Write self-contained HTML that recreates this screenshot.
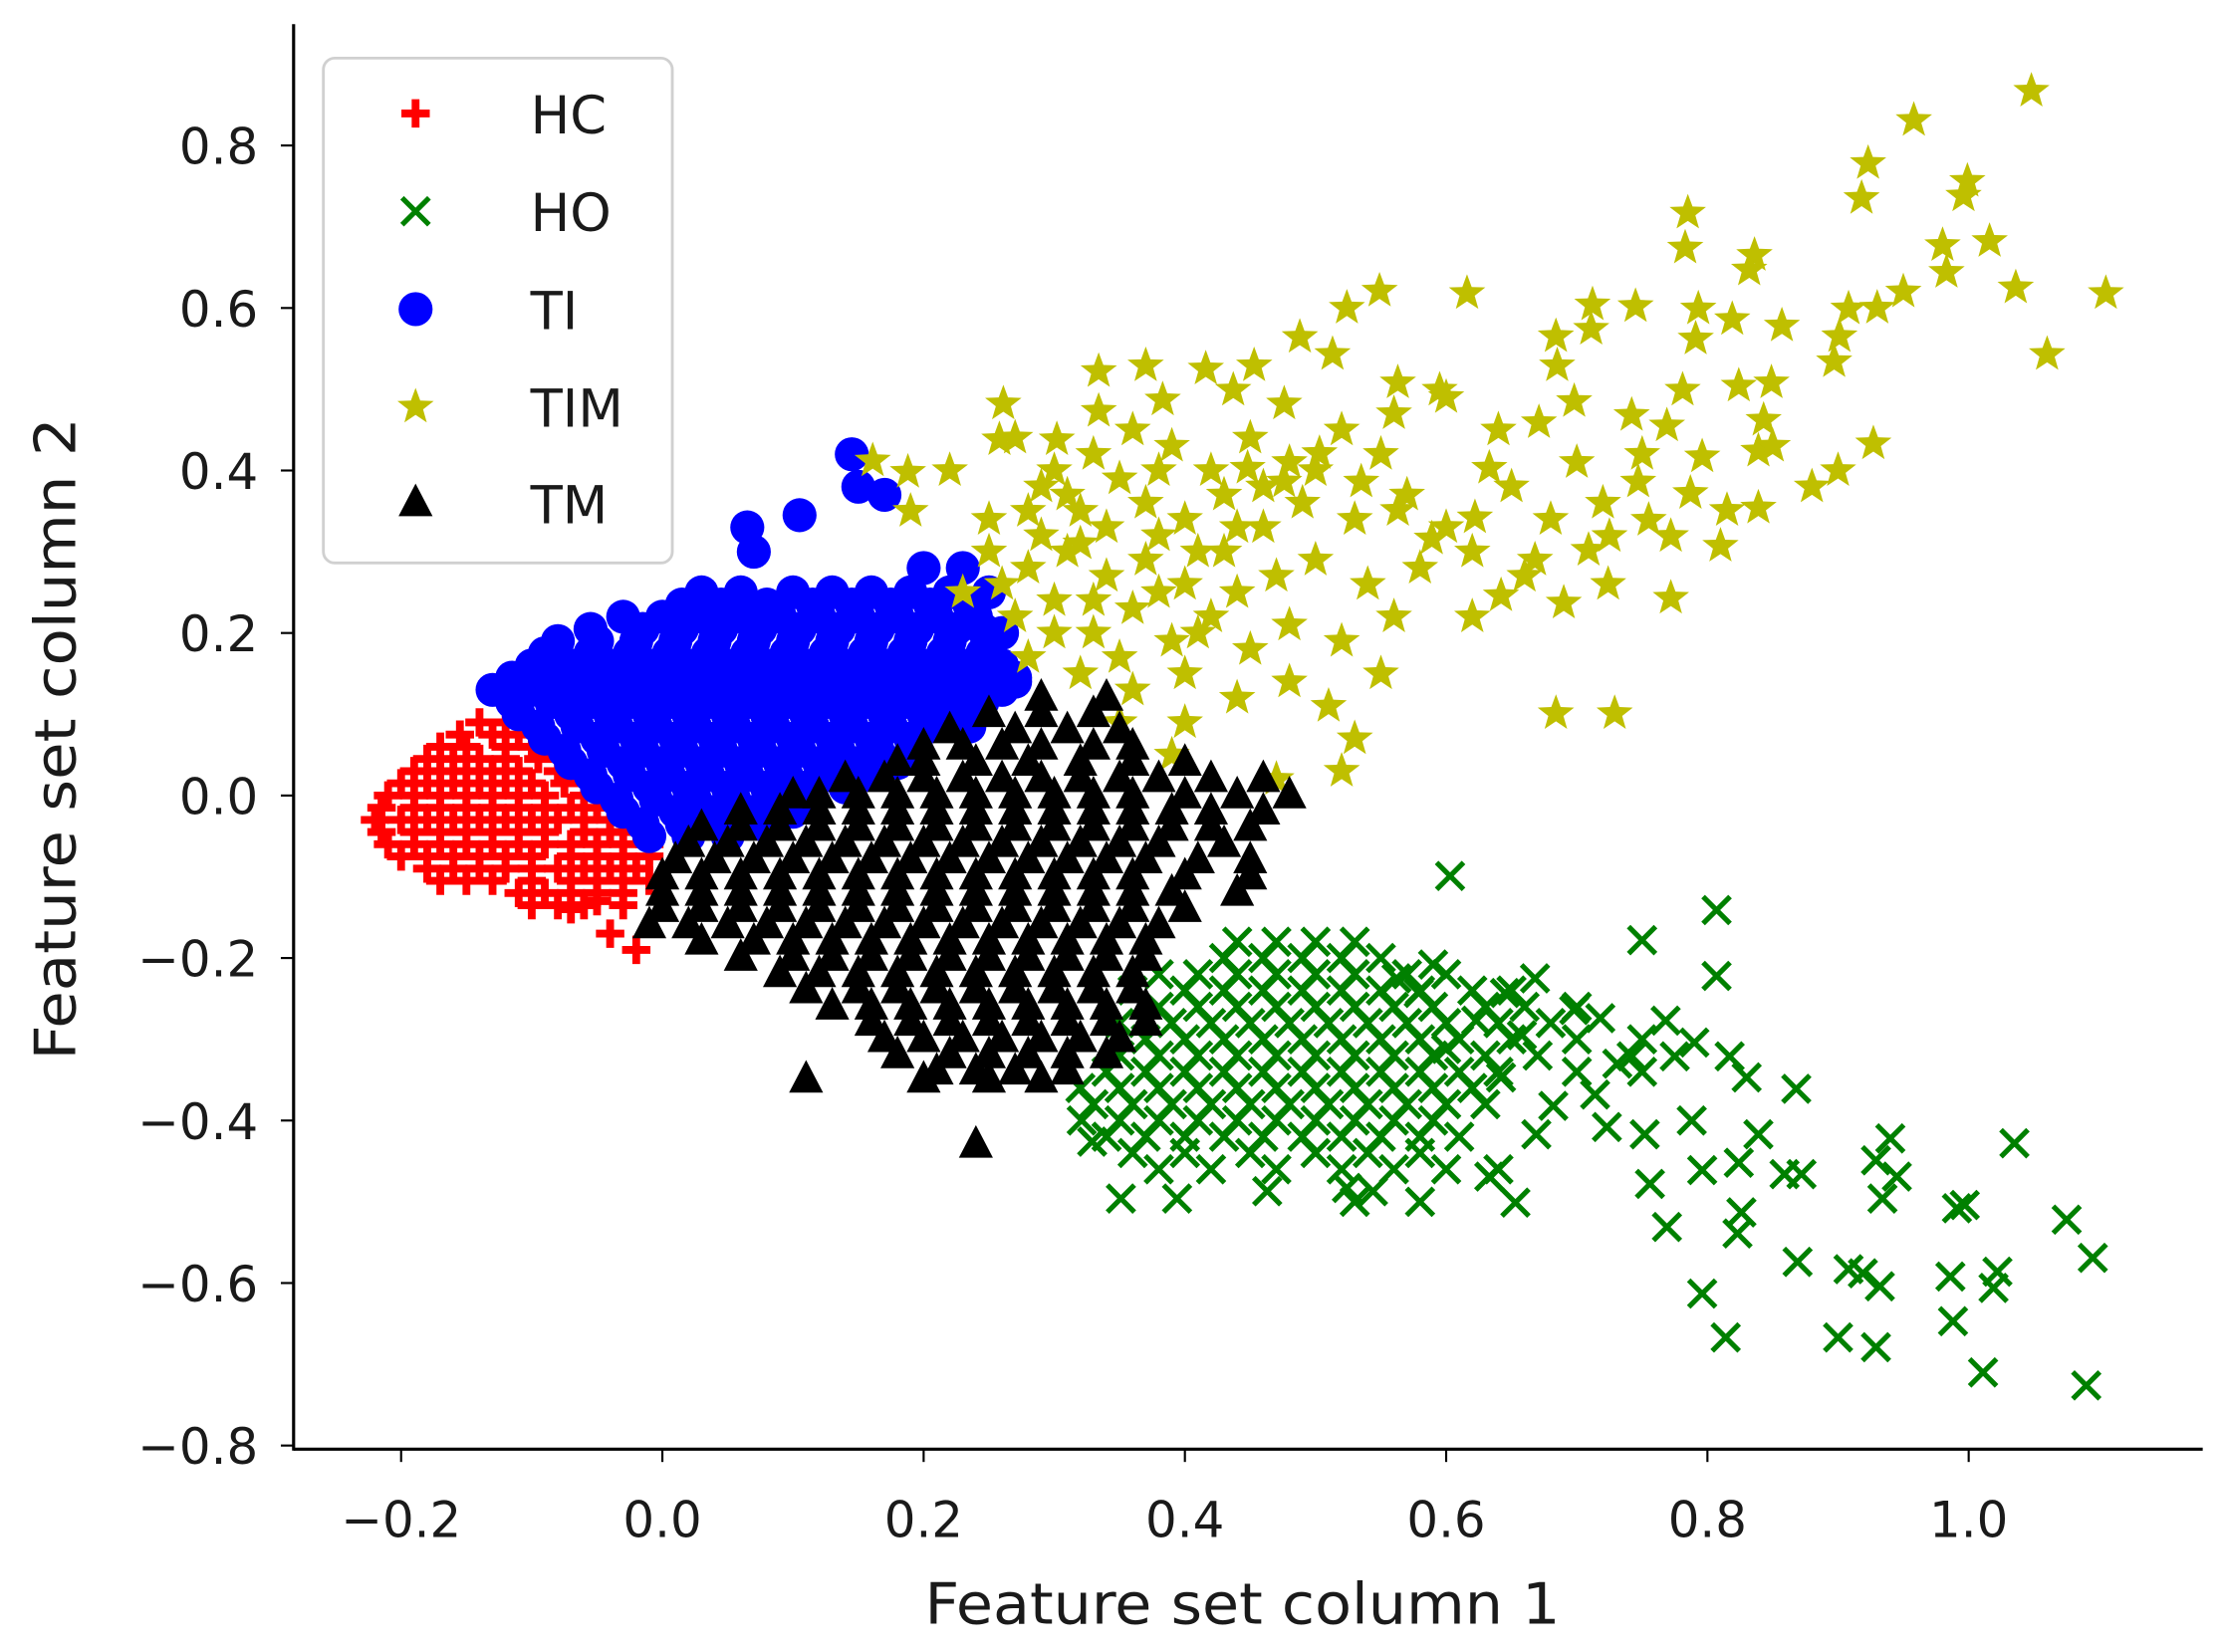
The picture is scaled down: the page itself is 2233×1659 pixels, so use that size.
<!DOCTYPE html>
<html><head><meta charset="utf-8"><style>
html,body{margin:0;padding:0;background:#fff;}
svg{display:block;}
text{font-family:"DejaVu Sans","Liberation Sans",sans-serif;fill:#1a1a1a;}
</style></head><body>
<svg id="chart" width="2233" height="1659" viewBox="0 0 1568 1165" preserveAspectRatio="none" xmlns="http://www.w3.org/2000/svg">
<g id="marks"></g>
<g id="axes"></g>
<g id="legend"></g>
</svg>
<script>
const xTicks=[-0.2,0.0,0.2,0.4,0.6,0.8,1.0];
const xTickLabels=["\u22120.2","0.0","0.2","0.4","0.6","0.8","1.0"];
const yTicks=[0.8,0.6,0.4,0.2,0.0,-0.2,-0.4,-0.6,-0.8];
const yTickLabels=["0.8","0.6","0.4","0.2","0.0","\u22120.2","\u22120.4","\u22120.6","\u22120.8"];
const seriesNames=["HC","HO","TI","TIM","TM"];
const hcPoints=[[-0.14,0.09],[-0.12,0.09],[-0.17,0.06],[-0.15,0.06],[-0.12,0.06],[-0.10,0.06],
[-0.19,0.03],[-0.17,0.03],[-0.15,0.03],[-0.13,0.03],[-0.11,0.03],[-0.08,0.03],
[-0.21,0],[-0.19,0],[-0.17,0],[-0.15,0],[-0.13,0],[-0.11,0],[-0.09,0],[-0.06,0],
[-0.22,-0.03],[-0.20,-0.03],[-0.18,-0.03],[-0.16,-0.03],[-0.14,-0.03],[-0.12,-0.03],[-0.10,-0.03],[-0.08,-0.03],[-0.06,-0.03],[-0.04,-0.03],
[-0.21,-0.06],[-0.19,-0.06],[-0.17,-0.06],[-0.15,-0.06],[-0.13,-0.06],[-0.11,-0.06],[-0.09,-0.06],[-0.07,-0.06],[-0.05,-0.06],[-0.03,-0.06],[-0.01,-0.06],
[-0.18,-0.09],[-0.16,-0.09],[-0.14,-0.09],[-0.12,-0.09],[-0.10,-0.09],[-0.08,-0.09],[-0.06,-0.09],[-0.04,-0.09],[-0.02,-0.09],
[-0.11,-0.12],[-0.09,-0.12],[-0.07,-0.12],[-0.05,-0.12],[-0.03,-0.12],
[-0.07,-0.14],[-0.04,-0.17],[-0.02,-0.19],[-0.05,-0.13],
[-0.155,0.075],[-0.13,0.075],[-0.11,0.075],
[-0.18,0.045],[-0.16,0.045],[-0.14,0.045],[-0.12,0.045],[-0.095,0.045],
[-0.20,0.015],[-0.18,0.015],[-0.16,0.015],[-0.14,0.015],[-0.12,0.015],[-0.10,0.015],[-0.075,0.015],
[-0.215,-0.015],[-0.19,-0.015],[-0.17,-0.015],[-0.15,-0.015],[-0.13,-0.015],[-0.11,-0.015],[-0.09,-0.015],[-0.07,-0.015],[-0.05,-0.015],
[-0.215,-0.045],[-0.19,-0.045],[-0.17,-0.045],[-0.15,-0.045],[-0.13,-0.045],[-0.11,-0.045],[-0.09,-0.045],[-0.06,-0.045],[-0.04,-0.045],[-0.02,-0.045],
[-0.20,-0.075],[-0.18,-0.075],[-0.16,-0.075],[-0.14,-0.075],[-0.12,-0.075],[-0.10,-0.075],[-0.07,-0.075],[-0.05,-0.075],[-0.03,-0.075],[-0.01,-0.075],
[-0.17,-0.105],[-0.15,-0.105],[-0.13,-0.105],[-0.10,-0.105],[-0.07,-0.105],[-0.05,-0.105],[-0.03,-0.105],[-0.01,-0.105],
[-0.10,-0.135],[-0.08,-0.135],[-0.06,-0.135],[-0.03,-0.135]];
const hoPoints=[[0.603,-0.099],[0.807,-0.141],[0.750,-0.178],[0.807,-0.222],[1.090,-0.726],[1.075,-0.522],[1.095,-0.569],[1.035,-0.428],[1.011,-0.710],[1.022,-0.586],[1.019,-0.606],[0.991,-0.508],[0.997,-0.504],[0.988,-0.647],[0.986,-0.592],
[0.940,-0.422],[0.929,-0.449],[0.934,-0.496],[0.945,-0.469],[0.908,-0.583],[0.919,-0.588],[0.932,-0.604],[0.900,-0.667],[0.929,-0.679],[0.869,-0.574],[0.814,-0.667],[0.796,-0.613],
[0.868,-0.361],[0.859,-0.466],[0.872,-0.466],[0.839,-0.417],[0.824,-0.452],[0.826,-0.513],[0.823,-0.539],[0.796,-0.461],[0.788,-0.400],[0.775,-0.321],[0.817,-0.321],[0.830,-0.347],[0.790,-0.304],[0.768,-0.277],
[0.752,-0.417],[0.756,-0.478],[0.769,-0.531],[0.723,-0.408],[0.714,-0.368],[0.742,-0.321],[0.731,-0.330],[0.718,-0.274],[0.698,-0.264],[0.682,-0.382],[0.669,-0.417],[0.653,-0.501],[0.633,-0.469],[0.668,-0.225],
[0.645,-0.243],[0.623,-0.277],[0.658,-0.295],[0.642,-0.347],[0.600,-0.312],[0.579,-0.243],[0.562,-0.225],[0.590,-0.208],[0.524,-0.483],[0.544,-0.487],[0.463,-0.487],[0.394,-0.496],[0.351,-0.496],[0.329,-0.426],[0.321,-0.400],
[0.44,-0.18],[0.47,-0.18],[0.50,-0.18],[0.53,-0.18],
[0.38,-0.22],[0.41,-0.22],[0.44,-0.22],[0.47,-0.22],[0.50,-0.22],[0.53,-0.22],[0.57,-0.22],[0.60,-0.22],
[0.38,-0.26],[0.41,-0.26],[0.44,-0.26],[0.47,-0.26],[0.50,-0.26],[0.53,-0.26],[0.56,-0.26],[0.59,-0.26],[0.63,-0.26],[0.66,-0.26],[0.70,-0.26],
[0.37,-0.30],[0.40,-0.30],[0.43,-0.30],[0.46,-0.30],[0.49,-0.30],[0.52,-0.30],[0.55,-0.30],[0.58,-0.30],[0.61,-0.30],[0.65,-0.30],[0.70,-0.30],[0.75,-0.30],
[0.34,-0.34],[0.37,-0.34],[0.40,-0.34],[0.43,-0.34],[0.46,-0.34],[0.49,-0.34],[0.52,-0.34],[0.55,-0.34],[0.58,-0.34],[0.61,-0.34],[0.64,-0.34],[0.70,-0.34],[0.75,-0.34],
[0.33,-0.38],[0.36,-0.38],[0.39,-0.38],[0.42,-0.38],[0.45,-0.38],[0.48,-0.38],[0.51,-0.38],[0.54,-0.38],[0.57,-0.38],[0.60,-0.38],[0.63,-0.38],
[0.34,-0.42],[0.37,-0.42],[0.40,-0.42],[0.43,-0.42],[0.46,-0.42],[0.49,-0.42],[0.52,-0.42],[0.55,-0.42],[0.58,-0.42],[0.61,-0.42],
[0.38,-0.46],[0.42,-0.46],[0.47,-0.46],[0.52,-0.46],[0.56,-0.46],[0.60,-0.46],[0.64,-0.46],[0.53,-0.50],[0.58,-0.50],
[0.43,-0.20],[0.46,-0.20],[0.49,-0.20],[0.52,-0.20],[0.55,-0.20],
[0.36,-0.24],[0.40,-0.24],[0.43,-0.24],[0.46,-0.24],[0.49,-0.24],[0.52,-0.24],[0.55,-0.24],[0.58,-0.24],[0.62,-0.24],[0.65,-0.24],
[0.35,-0.28],[0.39,-0.28],[0.42,-0.28],[0.45,-0.28],[0.48,-0.28],[0.51,-0.28],[0.54,-0.28],[0.57,-0.28],[0.60,-0.28],[0.64,-0.28],[0.68,-0.28],
[0.35,-0.32],[0.38,-0.32],[0.41,-0.32],[0.44,-0.32],[0.47,-0.32],[0.50,-0.32],[0.53,-0.32],[0.56,-0.32],[0.59,-0.32],[0.63,-0.32],[0.67,-0.32],
[0.32,-0.36],[0.35,-0.36],[0.38,-0.36],[0.41,-0.36],[0.44,-0.36],[0.47,-0.36],[0.50,-0.36],[0.53,-0.36],[0.56,-0.36],[0.59,-0.36],[0.62,-0.36],
[0.35,-0.40],[0.38,-0.40],[0.41,-0.40],[0.44,-0.40],[0.47,-0.40],[0.50,-0.40],[0.53,-0.40],[0.56,-0.40],[0.59,-0.40],
[0.36,-0.44],[0.40,-0.44],[0.45,-0.44],[0.50,-0.44],[0.54,-0.44],[0.58,-0.44]];
const tiPoints=[[0.145,0.42],[0.15,0.38],[0.17,0.37],[0.105,0.345],[0.065,0.33],[0.07,0.30],[0.20,0.28],[0.23,0.28],[0.25,0.25],[0.26,0.20],[0.27,0.14],
[0.03,0.25],[0.06,0.25],[0.10,0.25],[0.13,0.25],[0.16,0.25],[0.19,0.25],[0.22,0.25],
[-0.03,0.22],[0,0.22],[0.03,0.22],[0.06,0.22],[0.09,0.22],[0.12,0.22],[0.15,0.22],[0.18,0.22],[0.21,0.22],[0.24,0.22],
[-0.08,0.19],[-0.05,0.19],[-0.02,0.19],[0.01,0.19],[0.04,0.19],[0.07,0.19],[0.10,0.19],[0.13,0.19],[0.16,0.19],[0.19,0.19],[0.22,0.19],[0.25,0.19],
[-0.10,0.16],[-0.07,0.16],[-0.04,0.16],[-0.01,0.16],[0.02,0.16],[0.05,0.16],[0.08,0.16],[0.11,0.16],[0.14,0.16],[0.17,0.16],[0.20,0.16],[0.23,0.16],[0.26,0.16],
[-0.13,0.13],[-0.10,0.13],[-0.07,0.13],[-0.04,0.13],[-0.01,0.13],[0.02,0.13],[0.05,0.13],[0.08,0.13],[0.11,0.13],[0.14,0.13],[0.17,0.13],[0.20,0.13],[0.23,0.13],[0.26,0.13],
[-0.11,0.10],[-0.07,0.10],[-0.04,0.10],[-0.01,0.10],[0.02,0.10],[0.05,0.10],[0.08,0.10],[0.11,0.10],[0.14,0.10],[0.17,0.10],[0.20,0.10],[0.23,0.10],
[-0.09,0.07],[-0.05,0.07],[-0.02,0.07],[0.01,0.07],[0.04,0.07],[0.07,0.07],[0.10,0.07],[0.13,0.07],[0.16,0.07],[0.19,0.07],
[-0.07,0.04],[-0.03,0.04],[0,0.04],[0.03,0.04],[0.06,0.04],[0.09,0.04],[0.12,0.04],[0.15,0.04],[0.18,0.04],
[-0.05,0.01],[-0.01,0.01],[0.02,0.01],[0.05,0.01],[0.08,0.01],[0.11,0.01],[0.14,0.01],
[-0.03,-0.02],[0.01,-0.02],[0.04,-0.02],[0.07,-0.02],[0.10,-0.02],[-0.01,-0.05],[0.02,-0.05],[0.05,-0.05],
[0.015,0.235],[0.045,0.235],[0.08,0.235],[0.115,0.235],[0.145,0.235],[0.175,0.235],[0.205,0.235],[0.235,0.235],
[-0.055,0.205],[-0.015,0.205],[0.015,0.205],[0.045,0.205],[0.075,0.205],[0.105,0.205],[0.135,0.205],[0.165,0.205],[0.195,0.205],[0.225,0.205],[0.245,0.205],
[-0.09,0.175],[-0.055,0.175],[-0.025,0.175],[0.005,0.175],[0.035,0.175],[0.065,0.175],[0.095,0.175],[0.125,0.175],[0.155,0.175],[0.185,0.175],[0.215,0.175],[0.245,0.175],
[-0.115,0.145],[-0.085,0.145],[-0.055,0.145],[-0.025,0.145],[0.005,0.145],[0.035,0.145],[0.065,0.145],[0.095,0.145],[0.125,0.145],[0.155,0.145],[0.185,0.145],[0.215,0.145],[0.245,0.145],[0.27,0.145],
[-0.115,0.115],[-0.085,0.115],[-0.055,0.115],[-0.025,0.115],[0.005,0.115],[0.035,0.115],[0.065,0.115],[0.095,0.115],[0.125,0.115],[0.155,0.115],[0.185,0.115],[0.215,0.115],[0.245,0.115],
[-0.095,0.085],[-0.065,0.085],[-0.035,0.085],[-0.005,0.085],[0.025,0.085],[0.055,0.085],[0.085,0.085],[0.115,0.085],[0.145,0.085],[0.175,0.085],[0.205,0.085],[0.235,0.085],
[-0.075,0.055],[-0.045,0.055],[-0.015,0.055],[0.015,0.055],[0.045,0.055],[0.075,0.055],[0.105,0.055],[0.135,0.055],[0.165,0.055],[0.195,0.055],
[-0.055,0.025],[-0.025,0.025],[0.005,0.025],[0.035,0.025],[0.065,0.025],[0.095,0.025],[0.125,0.025],[0.155,0.025],
[-0.035,-0.005],[-0.005,-0.005],[0.025,-0.005],[0.055,-0.005],[0.085,-0.005],[0.115,-0.005],
[-0.015,-0.035],[0.015,-0.035],[0.045,-0.035],[0.075,-0.035]];
const timPoints=[[1.048,0.867],[0.958,0.831],[0.923,0.778],[0.918,0.735],[0.999,0.756],[0.996,0.738],[0.785,0.717],[0.783,0.674],[0.836,0.665],[0.832,0.647],[0.980,0.677],[0.983,0.644],[1.016,0.682],
[1.036,0.625],[1.105,0.618],[1.060,0.543],[0.908,0.599],[0.901,0.565],[0.897,0.534],[0.927,0.433],[0.900,0.400],
[0.616,0.618],[0.549,0.621],[0.524,0.600],[0.488,0.564],[0.453,0.529],[0.416,0.525],[0.370,0.529],[0.334,0.522],[0.261,0.482],
[0.712,0.604],[0.745,0.602],[0.711,0.574],[0.684,0.565],[0.685,0.529],[0.793,0.599],[0.819,0.586],[0.857,0.578],[0.791,0.562],
[0.849,0.508],[0.824,0.504],[0.781,0.499],[0.595,0.499],[0.563,0.508],[0.513,0.543],[0.476,0.482],[0.437,0.499],[0.383,0.487],
[0.334,0.473],[0.302,0.438],[0.258,0.438],[0.188,0.398],[0.161,0.412],
[0.671,0.459],[0.698,0.485],[0.742,0.468],[0.769,0.455],[0.796,0.417],[0.839,0.424],[0.843,0.462],[0.787,0.372],[0.747,0.386],
[0.755,0.339],[0.772,0.319],[0.810,0.307],[0.815,0.351],[0.839,0.354],[0.725,0.319],[0.709,0.302],[0.668,0.290],[0.642,0.246],
[0.690,0.237],[0.724,0.260],[0.772,0.243],[0.684,0.101],[0.729,0.101],
[0.633,0.403],[0.622,0.342],[0.589,0.316],[0.563,0.351],[0.535,0.386],[0.503,0.421],[0.476,0.386],[0.448,0.403],
[0.30,0.40],[0.33,0.42],[0.36,0.45],[0.39,0.43],[0.42,0.40],[0.45,0.44],[0.48,0.41],[0.52,0.45],[0.55,0.42],
[0.28,0.35],[0.31,0.37],[0.34,0.33],[0.37,0.36],[0.40,0.34],[0.43,0.37],[0.46,0.33],[0.49,0.36],[0.53,0.34],[0.57,0.37],[0.60,0.33],
[0.25,0.30],[0.28,0.28],[0.31,0.30],[0.34,0.27],[0.37,0.29],[0.40,0.26],[0.43,0.30],[0.47,0.27],[0.50,0.29],[0.54,0.26],[0.58,0.28],[0.62,0.30],
[0.23,0.25],[0.27,0.22],[0.30,0.24],[0.33,0.20],[0.36,0.23],[0.39,0.19],[0.42,0.22],[0.45,0.18],[0.48,0.21],[0.52,0.19],[0.56,0.22],
[0.28,0.17],[0.32,0.15],[0.36,0.13],[0.40,0.15],[0.44,0.12],[0.48,0.14],[0.51,0.11],[0.55,0.15],
[0.35,0.09],[0.39,0.05],[0.47,0.02],[0.52,0.03],[0.53,0.07],[0.40,0.09],
[0.65,0.38],[0.68,0.34],[0.72,0.36],[0.66,0.27],[0.62,0.22],[0.70,0.41],[0.75,0.42],
[0.56,0.47],[0.60,0.49],[0.64,0.45],[0.27,0.44],[0.22,0.40],[0.19,0.35],[0.85,0.43],[0.88,0.38],[0.93,0.60],[0.95,0.62],
[0.32,0.31],[0.35,0.39],[0.38,0.32],[0.41,0.30],[0.44,0.33],[0.29,0.32],[0.33,0.24],[0.38,0.25],[0.41,0.20],[0.35,0.17],[0.30,0.20],[0.26,0.26],[0.44,0.25],[0.46,0.38],[0.50,0.40],[0.38,0.40],[0.32,0.35],[0.29,0.38],[0.25,0.34]];
const tmPoints=[[0.29,0.12],[0.34,0.12],
[0.22,0.08],[0.27,0.08],[0.31,0.08],[0.35,0.08],
[0.18,0.04],[0.20,0.04],[0.24,0.04],[0.28,0.04],[0.32,0.04],[0.36,0.04],[0.40,0.04],
[0.10,0],[0.12,0],[0.15,0],[0.18,0],[0.21,0],[0.24,0],[0.27,0],[0.30,0],[0.33,0],[0.36,0],[0.40,0],[0.44,0],[0.48,0],
[0.03,-0.04],[0.06,-0.04],[0.09,-0.04],[0.12,-0.04],[0.15,-0.04],[0.18,-0.04],[0.21,-0.04],[0.24,-0.04],[0.27,-0.04],[0.30,-0.04],[0.33,-0.04],[0.36,-0.04],[0.39,-0.04],[0.42,-0.04],[0.45,-0.04],
[0.01,-0.08],[0.04,-0.08],[0.07,-0.08],[0.10,-0.08],[0.13,-0.08],[0.16,-0.08],[0.19,-0.08],[0.22,-0.08],[0.25,-0.08],[0.28,-0.08],[0.31,-0.08],[0.34,-0.08],[0.37,-0.08],[0.41,-0.08],[0.45,-0.08],
[0,-0.12],[0.03,-0.12],[0.06,-0.12],[0.09,-0.12],[0.12,-0.12],[0.15,-0.12],[0.18,-0.12],[0.21,-0.12],[0.24,-0.12],[0.27,-0.12],[0.30,-0.12],[0.33,-0.12],[0.36,-0.12],[0.39,-0.12],[0.44,-0.12],
[-0.01,-0.16],[0.02,-0.16],[0.05,-0.16],[0.08,-0.16],[0.11,-0.16],[0.14,-0.16],[0.17,-0.16],[0.20,-0.16],[0.23,-0.16],[0.26,-0.16],[0.29,-0.16],[0.32,-0.16],[0.35,-0.16],[0.38,-0.16],
[0.06,-0.20],[0.10,-0.20],[0.13,-0.20],[0.16,-0.20],[0.19,-0.20],[0.22,-0.20],[0.25,-0.20],[0.28,-0.20],[0.31,-0.20],[0.34,-0.20],[0.37,-0.20],
[0.11,-0.24],[0.15,-0.24],[0.18,-0.24],[0.21,-0.24],[0.24,-0.24],[0.27,-0.24],[0.30,-0.24],[0.33,-0.24],[0.36,-0.24],
[0.16,-0.28],[0.19,-0.28],[0.22,-0.28],[0.25,-0.28],[0.28,-0.28],[0.31,-0.28],[0.34,-0.28],[0.37,-0.28],
[0.18,-0.32],[0.22,-0.32],[0.25,-0.32],[0.28,-0.32],[0.31,-0.32],[0.34,-0.32],
[0.11,-0.35],[0.20,-0.35],[0.25,-0.35],[0.29,-0.35],[0.24,-0.43],
[0.25,0.10],[0.29,0.10],[0.33,0.10],
[0.20,0.06],[0.23,0.06],[0.26,0.06],[0.29,0.06],[0.33,0.06],[0.36,0.06],
[0.14,0.02],[0.17,0.02],[0.20,0.02],[0.23,0.02],[0.26,0.02],[0.29,0.02],[0.32,0.02],[0.35,0.02],[0.38,0.02],[0.42,0.02],[0.46,0.02],
[0.06,-0.02],[0.09,-0.02],[0.12,-0.02],[0.15,-0.02],[0.18,-0.02],[0.21,-0.02],[0.24,-0.02],[0.27,-0.02],[0.30,-0.02],[0.33,-0.02],[0.36,-0.02],[0.39,-0.02],[0.42,-0.02],[0.46,-0.02],
[0.02,-0.06],[0.05,-0.06],[0.08,-0.06],[0.11,-0.06],[0.14,-0.06],[0.17,-0.06],[0.20,-0.06],[0.23,-0.06],[0.26,-0.06],[0.29,-0.06],[0.32,-0.06],[0.35,-0.06],[0.38,-0.06],[0.43,-0.06],
[0,-0.10],[0.03,-0.10],[0.06,-0.10],[0.09,-0.10],[0.12,-0.10],[0.15,-0.10],[0.18,-0.10],[0.21,-0.10],[0.24,-0.10],[0.27,-0.10],[0.30,-0.10],[0.33,-0.10],[0.36,-0.10],[0.40,-0.10],[0.45,-0.10],
[0,-0.14],[0.03,-0.14],[0.06,-0.14],[0.09,-0.14],[0.12,-0.14],[0.15,-0.14],[0.18,-0.14],[0.21,-0.14],[0.24,-0.14],[0.27,-0.14],[0.30,-0.14],[0.33,-0.14],[0.36,-0.14],[0.40,-0.14],
[0.03,-0.18],[0.07,-0.18],[0.10,-0.18],[0.13,-0.18],[0.16,-0.18],[0.19,-0.18],[0.22,-0.18],[0.25,-0.18],[0.28,-0.18],[0.31,-0.18],[0.34,-0.18],[0.37,-0.18],
[0.09,-0.22],[0.12,-0.22],[0.15,-0.22],[0.18,-0.22],[0.21,-0.22],[0.24,-0.22],[0.27,-0.22],[0.30,-0.22],[0.33,-0.22],[0.36,-0.22],
[0.13,-0.26],[0.16,-0.26],[0.19,-0.26],[0.22,-0.26],[0.25,-0.26],[0.28,-0.26],[0.31,-0.26],[0.34,-0.26],[0.37,-0.26],
[0.17,-0.30],[0.20,-0.30],[0.23,-0.30],[0.26,-0.30],[0.29,-0.30],[0.32,-0.30],[0.35,-0.30],
[0.21,-0.34],[0.24,-0.34],[0.27,-0.34],[0.31,-0.34]];

const NS="http://www.w3.org/2000/svg";
const X0=467, XS=921, Y0=561, YS=573;
function sx(v){return X0+v*XS;}
function sy(v){return Y0-v*YS;}
function mk(tag,attrs,parent){const e=document.createElementNS(NS,tag);for(const k in attrs)e.setAttribute(k,attrs[k]);parent.appendChild(e);return e;}
function starPts(cx,cy,R,r){let s=[];for(let i=0;i<10;i++){const a=-Math.PI/2+i*Math.PI/5;const rr=i%2?r:R;s.push((cx+rr*Math.cos(a)).toFixed(1)+","+(cy+rr*Math.sin(a)).toFixed(1));}return s.join(" ");}
function drawMarker(kind,cx,cy,parent){
  let e;
  if(kind==="HC"){e=mk("path",{d:`M${cx-10},${cy}H${cx+10}M${cx},${cy-10}V${cy+10}`,stroke:"#ff0000","stroke-width":5.5,fill:"none"},parent);}
  else if(kind==="HO"){e=mk("path",{d:`M${cx-9.5},${cy-9.5}L${cx+9.5},${cy+9.5}M${cx-9.5},${cy+9.5}L${cx+9.5},${cy-9.5}`,stroke:"#008000","stroke-width":3.6,fill:"none"},parent);}
  else if(kind==="TI"){e=mk("circle",{cx:cx,cy:cy,r:12,fill:"#0000ff"},parent);}
  else if(kind==="TIM"){e=mk("polygon",{points:starPts(cx,cy,13.5,5.6),fill:"#bfbf00"},parent);}
  else {e=mk("polygon",{points:`${cx},${cy-14} ${cx+12},${cy+9} ${cx-12},${cy+9}`,fill:"#000000"},parent);}
  return e;
}
const marks=document.getElementById("marks");
const seriesData={HC:hcPoints,HO:hoPoints,TI:tiPoints,TIM:timPoints,TM:tmPoints};
seriesNames.forEach(name=>{
  const g=mk("g",{},marks);
  
  
  seriesData[name].forEach(p=>{
    const m=drawMarker(name,sx(p[0]),sy(p[1]),g);
    
    
  });
});
const axes=document.getElementById("axes");
const xAxisLine=mk("line",{x1:207,y1:1022,x2:1553,y2:1022,stroke:"#000","stroke-width":2.2},axes);


const yAxisLine=mk("line",{x1:207,y1:17,x2:207,y2:1023,stroke:"#000","stroke-width":2.2},axes);


xTicks.forEach((t,i)=>{
  const tk=mk("line",{x1:sx(t),y1:1022,x2:sx(t),y2:1031,stroke:"#000","stroke-width":1.5},axes);
  
  
  const tx=mk("text",{x:sx(t),y:1084,"text-anchor":"middle","font-size":35},axes);
  tx.textContent=xTickLabels[i];
  
  
});
yTicks.forEach((t,i)=>{
  const tk=mk("line",{x1:198,y1:sy(t),x2:207,y2:sy(t),stroke:"#000","stroke-width":1.5},axes);
  
  
  const tx=mk("text",{x:182,y:sy(t)+13,"text-anchor":"end","font-size":35},axes);
  tx.textContent=yTickLabels[i];
  
  
});
const xl=mk("text",{x:876,y:1145,"text-anchor":"middle","font-size":40,textLength:448,lengthAdjust:"spacingAndGlyphs"},axes);
xl.textContent="Feature set column 1";


const yl=mk("text",{x:0,y:0,"text-anchor":"middle","font-size":40,textLength:453,lengthAdjust:"spacingAndGlyphs",transform:"translate(53,521) rotate(-90)"},axes);
yl.textContent="Feature set column 2";


const legend=document.getElementById("legend");
const lb=mk("rect",{x:228,y:41,width:246,height:356,rx:8,fill:"#fff","fill-opacity":0.85,stroke:"#d0d0d0","stroke-width":2},legend);


const legendRows=[80,149,218,287,355];
seriesNames.forEach((name,i)=>{
  const g=mk("g",{},legend);
  
  
  drawMarker(name,293,legendRows[i],g);
  const t=mk("text",{x:374,y:legendRows[i]+14,"font-size":37},g);
  t.textContent=name;
});
</script>
</body></html>
